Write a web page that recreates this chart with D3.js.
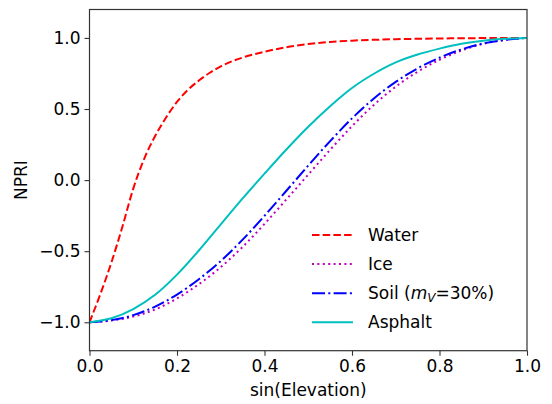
<!DOCTYPE html>
<html>
<head>
<meta charset="utf-8">
<script src="https://cdn.jsdelivr.net/npm/d3@7"></script>
<style>
  body { margin: 0; background: #fff; }
  text { font-family: "DejaVu Sans", sans-serif; fill: #000; }
</style>
</head>
<body>
<div id="vis"></div>
<script>
const WIDTH = 552;
const HEIGHT = 404;
const MARGINS = {left: 89.5, right: 25, top: 9.5, bottom: 53.3};
const VIS_WIDTH = WIDTH - MARGINS.left - MARGINS.right;
const VIS_HEIGHT = HEIGHT - MARGINS.top - MARGINS.bottom;

// sin(elevation) sample points
const xsWater = [0, 0.025, 0.05, 0.075, 0.1, 0.125, 0.15, 0.175, 0.2, 0.225, 0.25, 0.275, 0.3,
                 0.35, 0.4, 0.45, 0.5, 0.55, 0.6, 0.7, 0.8, 0.9, 1.0];
const xs = [0, 0.05, 0.1, 0.15, 0.2, 0.25, 0.3, 0.35, 0.4, 0.45, 0.5,
            0.55, 0.6, 0.65, 0.7, 0.75, 0.8, 0.85, 0.9, 0.95, 1.0];

const water   = [-1, -0.80, -0.58, -0.33, -0.06, 0.15, 0.31, 0.44, 0.55, 0.635, 0.70, 0.755, 0.80,
                 0.862, 0.903, 0.935, 0.957, 0.972, 0.981, 0.991, 0.996, 0.999, 1.0];
const ice     = [-1, -0.988, -0.96, -0.91, -0.832, -0.732, -0.612, -0.47, -0.308, -0.136, 0.039,
                 0.213, 0.379, 0.529, 0.657, 0.762, 0.846, 0.911, 0.958, 0.987, 1.0];
const soil    = [-1, -0.985, -0.95, -0.89, -0.805, -0.697, -0.569, -0.419, -0.251, -0.075, 0.102,
                 0.274, 0.434, 0.574, 0.691, 0.786, 0.861, 0.919, 0.961, 0.986, 1.0];
const asphalt = [-1, -0.972, -0.907, -0.807, -0.665, -0.495, -0.312, -0.129, 0.045, 0.215, 0.375,
                 0.52, 0.648, 0.748, 0.828, 0.883, 0.925, 0.959, 0.981, 0.994, 1.0];

const xTicks = [0, 0.2, 0.4, 0.6, 0.8, 1.0];
const yTicks = [-1.0, -0.5, 0.0, 0.5, 1.0];

const series = [
    {name: "Water", x: xsWater, values: water, color: "#ff0000", dash: "7.5,3.2"},
    {name: "Ice", x: xs, values: ice, color: "#bf00bf", dash: "2,3.4"},
    {name: "Soil", x: xs, values: soil, color: "#0000ff", dash: "13,3.3,2,3.3"},
    {name: "Asphalt", x: xs, values: asphalt, color: "#00bfbf", dash: null}
];

const FRAME = d3.select("#vis")
    .append("svg")
        .attr("width", WIDTH)
        .attr("height", HEIGHT);

const X_SCALE = d3.scaleLinear().domain([0, 1]).range([0, VIS_WIDTH]);
const Y_SCALE = d3.scaleLinear().domain([-1.2, 1.2]).range([VIS_HEIGHT, 0]);

const fmt = (d) => d3.format(".1f")(d).replace("-", "\u2212");

const G = FRAME.append("g")
    .attr("transform", `translate(${MARGINS.left},${MARGINS.top})`);

G.append("clipPath").attr("id", "clip")
    .append("rect")
        .attr("width", VIS_WIDTH)
        .attr("height", VIS_HEIGHT);

// curves
const line = d3.line()
    .x((d) => X_SCALE(d[0]))
    .y((d) => Y_SCALE(d[1]))
    .curve(d3.curveMonotoneX);

G.append("g").attr("clip-path", "url(#clip)")
    .selectAll("path")
    .data(series)
    .enter()
    .append("path")
        .attr("d", (s) => line(s.x.map((x, i) => [x, s.values[i]])))
        .attr("fill", "none")
        .attr("stroke", (s) => s.color)
        .attr("stroke-width", 2)
        .attr("stroke-dasharray", (s) => s.dash);

// axes
const xAxis = G.append("g")
    .attr("transform", `translate(0,${VIS_HEIGHT})`)
    .call(d3.axisBottom(X_SCALE).tickValues(xTicks).tickFormat(fmt).tickSize(5).tickPadding(4));

const yAxis = G.append("g")
    .call(d3.axisLeft(Y_SCALE).tickValues(yTicks).tickFormat(fmt).tickSize(5).tickPadding(4));

[xAxis, yAxis].forEach((a) => {
    a.select(".domain").remove();
    a.selectAll("line").attr("stroke", "#333").attr("stroke-width", 1.1);
    a.selectAll("text").attr("font-family", "DejaVu Sans").attr("font-size", 17).attr("fill", "#000");
});

// frame
G.append("rect")
    .attr("width", VIS_WIDTH)
    .attr("height", VIS_HEIGHT)
    .attr("fill", "none")
    .attr("stroke", "#333")
    .attr("stroke-width", 1.2);

// axis labels
FRAME.append("text")
    .attr("x", MARGINS.left + VIS_WIDTH / 2)
    .attr("y", 396)
    .attr("text-anchor", "middle")
    .attr("font-size", 17)
    .text("sin(Elevation)");

FRAME.append("text")
    .attr("transform", `translate(27,${MARGINS.top + VIS_HEIGHT / 2}) rotate(-90)`)
    .attr("text-anchor", "middle")
    .attr("font-size", 17)
    .text("NPRI");

// legend
const LEG = FRAME.append("g").attr("transform", "translate(312,235)");
const rows = LEG.selectAll("g")
    .data(series)
    .enter()
    .append("g")
        .attr("transform", (d, i) => `translate(0,${i * 29.1})`);

rows.append("line")
    .attr("x1", 0).attr("x2", 41)
    .attr("stroke", (s) => s.color)
    .attr("stroke-width", 2)
    .attr("stroke-dasharray", (s) => s.dash);

rows.append("text")
    .attr("x", 56)
    .attr("y", 6)
    .attr("font-size", 17)
    .each(function(s) {
        const t = d3.select(this);
        if (s.name === "Soil") {
            t.append("tspan").text("Soil (");
            t.append("tspan").attr("font-style", "italic").text("m");
            t.append("tspan").attr("font-style", "italic").attr("font-size", 12).attr("dy", 3).text("V");
            t.append("tspan").attr("dy", -3).text("=30%)");
        } else {
            t.text(s.name);
        }
    });
</script>
</body>
</html>
